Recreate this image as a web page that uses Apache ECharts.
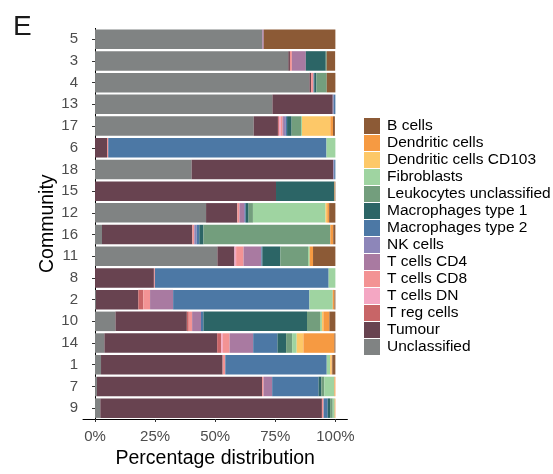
<!DOCTYPE html>
<html><head><meta charset="utf-8">
<script src="https://cdn.jsdelivr.net/npm/echarts@6/dist/echarts.min.js"></script>
<style>html,body{margin:0;padding:0;background:#fff}#c{width:553px;height:474px}</style>
</head><body><div id="c"></div>
<script>
const communities = ['5','3','4','13','17','6','18','15','12','16','11','8','2','10','14','1','7','9'];
const xTicks = [0,25,50,75,100];
const seriesNames = ['Unclassified','Tumour','T reg cells','T cells DN','T cells CD8','T cells CD4','NK cells','Macrophages type 2','Macrophages type 1','Leukocytes unclassified','Fibroblasts','Dendritic cells CD103','Dendritic cells','B cells'];
const unclassified = [69.6,80.4,89.2,73.8,66.0,0,40.2,0,46.2,2.9,50.9,0,0.4,8.5,3.9,2.5,0.8,2.2];
const tumour = [0,0.7,0.7,25.1,10.1,5.0,58.9,75.3,13.0,37.6,7.1,24.5,17.6,29.7,46.9,50.6,68.7,92.2];
const tregCells = [0,0,0,0,0.4,0,0,0,0,0,0,0,2.1,0.8,1.7,0,0,0];
const tCellsDN = [0,0,0,0,0.8,0,0,0,0,0,0.7,0,0,0,0.7,0,0,0];
const tCellsCD8 = [0,0.8,1.0,0,0.7,0.5,0,0,0.9,0.8,3.1,0.4,2.8,1.4,2.8,1.1,0.6,0.7];
const tCellsCD4 = [0.6,5.8,0,0,0.6,0,0,0,1.9,0,7.4,0,9.6,3.7,9.8,0,3.6,0];
const nkCells = [0,0,0,0.4,0.8,0,0.4,0,0.4,1.0,0,0,0,0,0,0,0,0];
const macrophages2 = [0,0,0.3,0.7,0.5,90.8,0.5,0,0.3,1.1,0.4,72.3,56.7,1.0,10.1,42.2,19.3,1.7];
const macrophages1 = [0,8.3,0.9,0,1.9,0,0,24.3,1.2,1.7,7.5,0,0,43.1,3.6,0,1.2,1.0];
const leukocytes = [0,0.4,4.3,0,3.9,0,0,0,1.8,52.8,11.5,0,0,5.4,2.5,0,1.2,1.1];
const fibroblasts = [0,0,0,0,0.4,3.7,0,0,30.2,0,0.7,2.8,9.7,0.8,1.9,1.4,4.2,0.8];
const dendriticCD103 = [0,0,0,0,11.8,0,0,0,0.7,0,0,0,0,0.6,2.8,0.6,0,0];
const dendritic = [0,0,0,0,1.1,0,0,0.2,0.8,1.2,1.4,0,0.7,2.5,12.9,0.3,0.4,0.3];
const bCells = [29.8,3.5,3.6,0,0.8,0,0,0.2,2.6,0.9,9.3,0,0.4,2.5,0.4,1.3,0,0];

const values = [unclassified,tumour,tregCells,tCellsDN,tCellsCD8,tCellsCD4,nkCells,macrophages2,macrophages1,leukocytes,fibroblasts,dendriticCD103,dendritic,bCells];
const colors = ['#808383','#684350','#c86567','#f4a7c3','#f39394','#a97aa1','#8d86b9','#4c78a5','#2c6566','#739e7d','#9fd4a1','#fdc868','#f69a42','#8c5a36'];

const font = 'Liberation Sans, Arial, Helvetica, sans-serif';
const chart = echarts.init(document.getElementById('c'), null, {renderer:'canvas'});
chart.setOption({
  animation:false,
  backgroundColor:'#ffffff',
  color: colors,
  textStyle:{fontFamily:font},
  graphic:[{type:'text', left:13, top:13, style:{text:'E', font:'28px '+font, fill:'#1a1a1a'}}],
  legend:{
    orient:'vertical', left:364, top:118, padding:0, itemWidth:16, itemHeight:16, itemGap:1,
    icon:'rect', data: seriesNames.slice().reverse(),
    textStyle:{fontSize:15.5, color:'#000', fontFamily:font, lineHeight:16, padding:[0,0,0,2]}
  },
  grid:{left:83, top:28.4, width:264.4, height:399.2, containLabel:false},
  xAxis:{
    type:'value', min:-5, max:105,
    name:'Percentage distribution', nameLocation:'middle', nameGap:30,
    nameTextStyle:{fontSize:19.5, color:'#000', fontFamily:font},
    axisLine:{show:true, lineStyle:{color:'#000', width:1}},
    axisTick:{show:true, length:3, customValues:xTicks, lineStyle:{color:'#333'}},
    axisLabel:{customValues:xTicks, formatter:v=>v+'%', fontSize:15, color:'#4d4d4d', margin:10, fontFamily:font},
    splitLine:{show:false}
  },
  yAxis:{
    type:'category', data:communities, inverse:true,
    name:'Community', nameLocation:'middle', nameGap:24, nameRotate:90,
    nameTextStyle:{fontSize:19.5, color:'#000', fontFamily:font},
    axisLine:{show:true, lineStyle:{color:'#000', width:1}},
    axisTick:{show:true, length:3, alignWithLabel:true, lineStyle:{color:'#333'}},
    axisLabel:{fontSize:15, color:'#4d4d4d', margin:5, fontFamily:font},
    splitLine:{show:false}
  },
  series: seriesNames.map((n,i)=>({
    name:n, type:'bar', stack:'total', data:values[i], barWidth:'90%',
    itemStyle:{color:colors[i]}
  }))
});
</script></body></html>
